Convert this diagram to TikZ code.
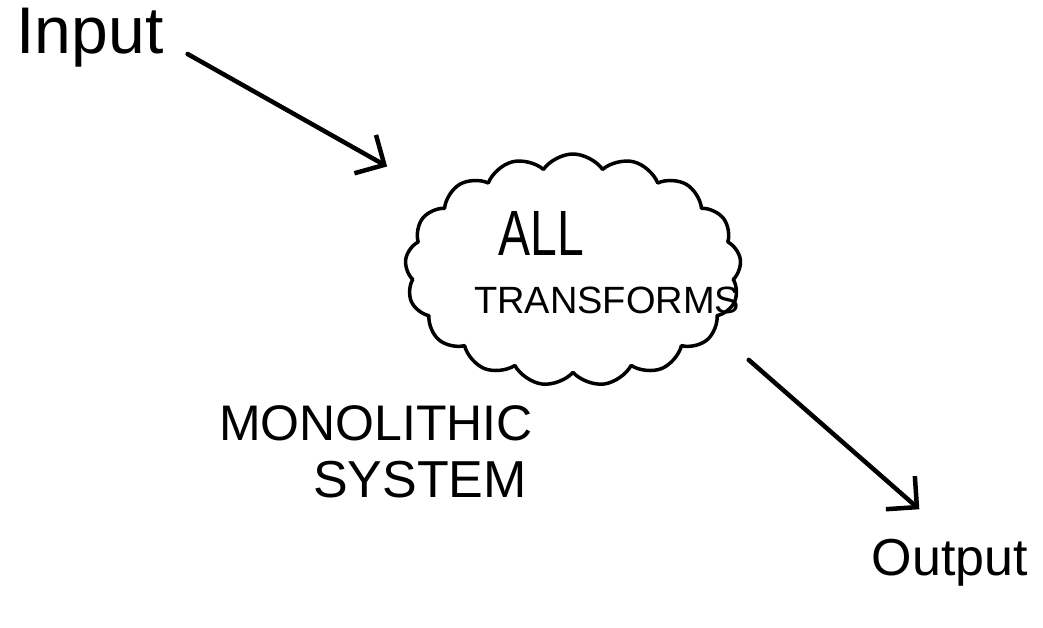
\documentclass[tikz,border=0pt]{standalone}
\usepackage{fontspec}
\setmainfont{Liberation Sans}
\usetikzlibrary{shapes.symbols,arrows.meta}
\tikzset{
  ink/.style={draw=black, line width=3.5pt, line cap=round, line join=round},
  arr/.style={draw=black, line width=4.5pt, line cap=round, line join=round,
    -{Straight Barb[length=22pt,width=44pt,line width=4.5pt]}},
  label/.style={inner sep=2pt, text=black},
}
\begin{document}
\begin{tikzpicture}[x=1pt,y=-1pt]
\useasboundingbox (0,0) rectangle (1043,628);
\node[label, font=\fontsize{66}{70}\selectfont] (in) at (90,38) {Input};
\node[cloud, ink, cloud puffs=17, cloud puff arc=110, aspect=1.45,
      minimum width=336pt, minimum height=232pt, inner sep=0pt] (cl) at (573,270) {};
\node[label, font=\fontsize{64}{66}\selectfont, xscale=0.75] (all) at (541,233) {ALL};
\node[label, font=\fontsize{38}{40}\selectfont] (tr) at (607,300) {TRANSFORMS};
\node[label, font=\fontsize{50}{54}\selectfont] (mono) at (376,423) {MONOLITHIC};
\node[label, font=\fontsize{52}{56}\selectfont] (sys) at (420,480) {SYSTEM};
\node[label, font=\fontsize{52}{56}\selectfont] (out) at (950,563) {Output};
\draw[arr] ([shift={(22,16)}]in.east) -- ([shift={(-57,-35)}]cl.152);
\draw[arr] ([shift={(46,15)}]cl.-30) -- ([yshift=28pt]out.140);
\end{tikzpicture}
\end{document}
